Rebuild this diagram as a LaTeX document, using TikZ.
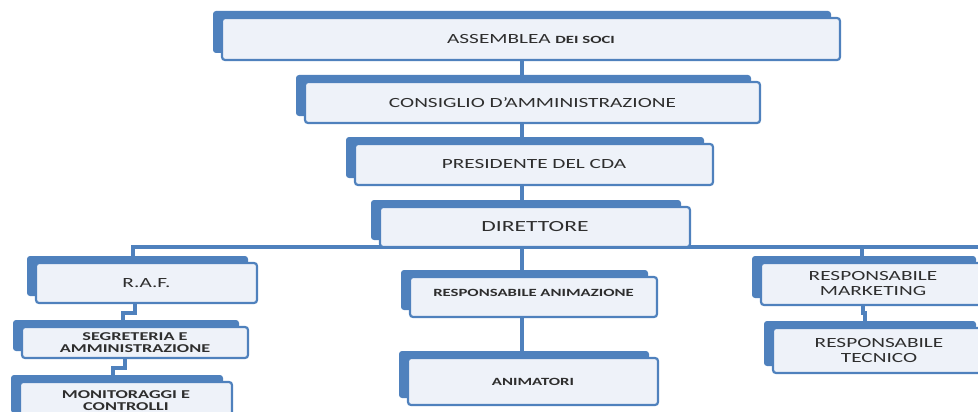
\documentclass[tikz,border=0pt]{standalone}
\usepackage{fontspec}
\setmainfont{Carlito}[FakeStretch=1.52]
\usetikzlibrary{shadows,backgrounds}
\definecolor{boxblue}{HTML}{4F81BD}
\definecolor{boxfill}{HTML}{EEF2F9}
\definecolor{txt}{HTML}{2E2E2E}
\tikzset{
  orgbox/.style={draw=boxblue, line width=2.2pt, fill=boxfill, rounded corners=3pt,
    text=txt, align=center, inner sep=0pt,
    general shadow={fill=boxblue, shadow xshift=-9pt, shadow yshift=7pt}},
  conn/.style={draw=boxblue, line width=3.5pt}
}
\begin{document}
\begin{tikzpicture}[x=1pt,y=-1pt]
\useasboundingbox (0,0) rectangle (978,412);
\clip (0,0) rectangle (978,412);
\coordinate (cx) at (522,0);
\coordinate (cr) at (862,0);
\coordinate (busL) at (133,247);
\coordinate (busR) at (990,247);
\coordinate (x1) at (135,0);
\coordinate (x2) at (123,0);
\coordinate (x3) at (125,0);
\coordinate (x4) at (113,0);
\coordinate (x5) at (863,0);
\coordinate (x6) at (865,0);

\node[orgbox, minimum width=618pt, minimum height=42pt, font=\fontsize{14}{16}\selectfont] (A1) at (531,39)
  {ASSEMBLEA {\fontsize{11}{13}\selectfont\bfseries DEI SOCI}};
\node[orgbox, minimum width=455pt, minimum height=41pt, font=\fontsize{14}{16}\selectfont] (A2) at (532.5,102.5)
  {CONSIGLIO D'AMMINISTRAZIONE};
\node[orgbox, minimum width=358pt, minimum height=41pt, font=\fontsize{14}{16}\selectfont] (A3) at (534,164.5)
  {PRESIDENTE DEL CDA};
\node[orgbox, minimum width=310pt, minimum height=40pt, font=\fontsize{15.5}{17}\selectfont] (A4) at (535,227)
  {DIRETTORE};
\node[orgbox, minimum width=221pt, minimum height=40pt, font=\fontsize{14}{16}\selectfont] (RAF) at (146.5,283)
  {R.A.F.};
\node[orgbox, minimum width=226pt, minimum height=31pt, font=\fontsize{12}{12}\selectfont\bfseries] (SEG) at (135,342.5)
  {SEGRETERIA E\\AMMINISTRAZIONE};
\node[orgbox, minimum width=212pt, minimum height=38pt, font=\fontsize{12}{12}\selectfont\bfseries] (MON) at (126,401)
  {\raisebox{8pt}{\parbox{150pt}{\centering MONITORAGGI E\\CONTROLLI}}};
\node[orgbox, minimum width=247pt, minimum height=40pt, font=\fontsize{11}{13}\selectfont\bfseries] (RA) at (533.5,297)
  {\raisebox{8pt}{RESPONSABILE ANIMAZIONE}};
\node[orgbox, minimum width=250pt, minimum height=47pt, font=\fontsize{11}{13}\selectfont\bfseries] (ANI) at (533,381.5)
  {ANIMATORI};
\node[orgbox, minimum width=224pt, minimum height=42pt, font=\fontsize{14}{15}\selectfont] (RM) at (873,284)
  {RESPONSABILE\\MARKETING};
\node[orgbox, minimum width=212pt, minimum height=45pt, font=\fontsize{14}{15}\selectfont] (RT) at (879,350.5)
  {RESPONSABILE\\TECNICO};

\begin{pgfonlayer}{background}
\draw[conn] (A1.south -| cx) -- (A2.north -| cx);
\draw[conn] (A2.south -| cx) -- (A3.north -| cx);
\draw[conn] (A3.south -| cx) -- (A4.north -| cx);
\draw[conn] (RAF.north -| busL) -- (busL) -- (busR);
\draw[conn] (busL -| cx) -- (RA.north -| cx);
\draw[conn] (busL -| cr) -- (RM.north -| cr);
\draw[conn] (RA.south -| cx) -- (ANI.north -| cx);
\draw[conn] (RAF.south -| x1) -- ++(0,9) -| (SEG.north -| x2);
\draw[conn] (SEG.south -| x3) -- ++(0,9) -| (MON.north -| x4);
\draw[conn] (RM.south -| x5) -- ++(0,7) -| (RT.north -| x6);
\end{pgfonlayer}
\end{tikzpicture}
\end{document}
